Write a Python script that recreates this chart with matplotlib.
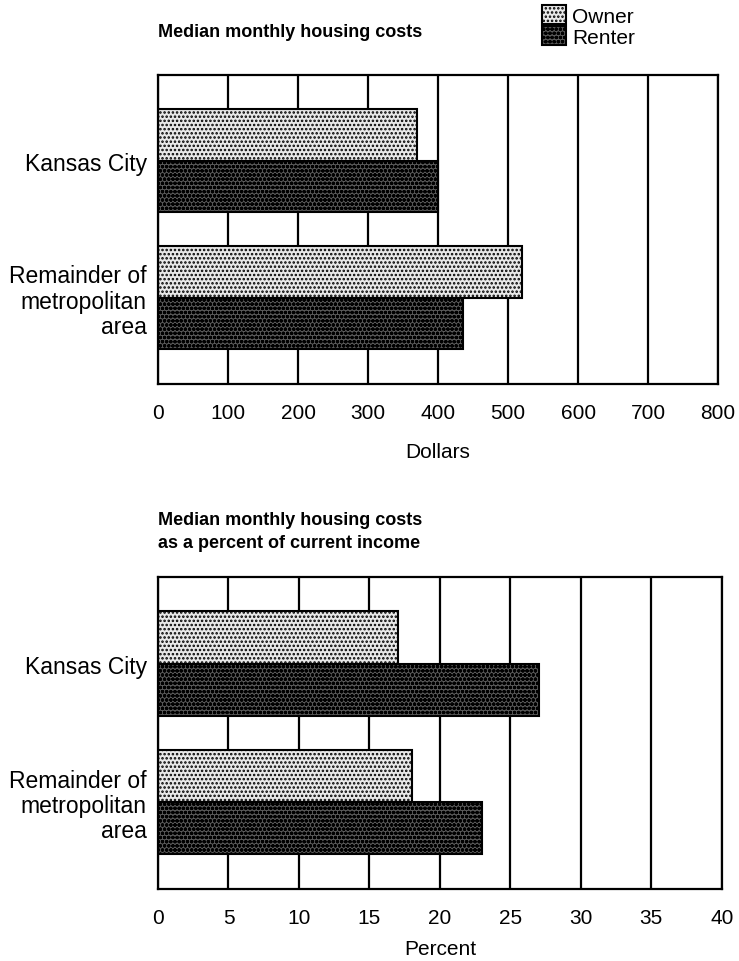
import numpy as np
import matplotlib.pyplot as plt
from matplotlib.patches import Patch

plt.rcParams['font.family'] = ['Liberation Sans', 'DejaVu Sans']
plt.rcParams['hatch.linewidth'] = 1.2

areas = ["Kansas City", "Remainder of\nmetropolitan\narea"]
series = ["Owner", "Renter"]

# Median monthly housing costs (dollars)
cost_owner = [370, 520]
cost_renter = [400, 435]

# As percent of current income
pct_owner = [17, 18]
pct_renter = [27, 23]

owner_style = dict(facecolor="#e8e8e8", edgecolor="black", hatch="....", linewidth=1.5)
renter_style = dict(facecolor="#5a5a5a", edgecolor="black", hatch="oooo", linewidth=1.5)

FS = 15


def draw_panel(ax, owner, renter, xmax, step, xlabel, title, title_pad):
    y = np.arange(len(areas))
    h = 0.377
    for xv in np.arange(0, xmax + step, step):
        ax.axvline(xv, color="black", linewidth=1.6, zorder=1)
    ax.barh(y - h / 2, owner, height=h, zorder=2, **owner_style)
    ax.barh(y + h / 2, renter, height=h, zorder=2, **renter_style)
    ax.set_xlim(0, xmax)
    ax.set_ylim(1.63, -0.623)
    ax.set_xticks(np.arange(0, xmax + step, step))
    ax.set_yticks(y)
    ax.set_yticklabels(areas, fontsize=16.5, linespacing=1.13)
    ax.tick_params(axis="x", length=0, labelsize=FS, pad=14)
    ax.tick_params(axis="y", length=0, pad=8)
    ax.set_xlabel(xlabel, fontsize=FS, labelpad=14)
    for s in ax.spines.values():
        s.set_linewidth(1.6)
    ax.set_title(title, loc="left", fontsize=13, fontweight="bold", pad=title_pad,
                 linespacing=1.45)


fig = plt.figure(figsize=(7.39, 9.62), dpi=100)
ax1 = fig.add_axes([0.2138, 0.5998, 0.758, 0.321])
ax2 = fig.add_axes([0.2138, 0.0748, 0.763, 0.324])

draw_panel(ax1, cost_owner, cost_renter, 800, 100, "Dollars",
           "Median monthly housing costs", 28)
draw_panel(ax2, pct_owner, pct_renter, 40, 5, "Percent",
           "Median monthly housing costs\nas a percent of current income", 22)
ax2.xaxis.labelpad = 8

handles = [Patch(**owner_style), Patch(**renter_style)]
fig.legend(handles, series, loc="upper left", bbox_to_anchor=(542 / 739, 1 - 6 / 962),
           frameon=False, fontsize=FS, handlelength=1.15, handleheight=1.05,
           labelspacing=0.0, handletextpad=0.3, borderaxespad=0.0, borderpad=0.0)

fig.savefig("out.png", dpi=100)
